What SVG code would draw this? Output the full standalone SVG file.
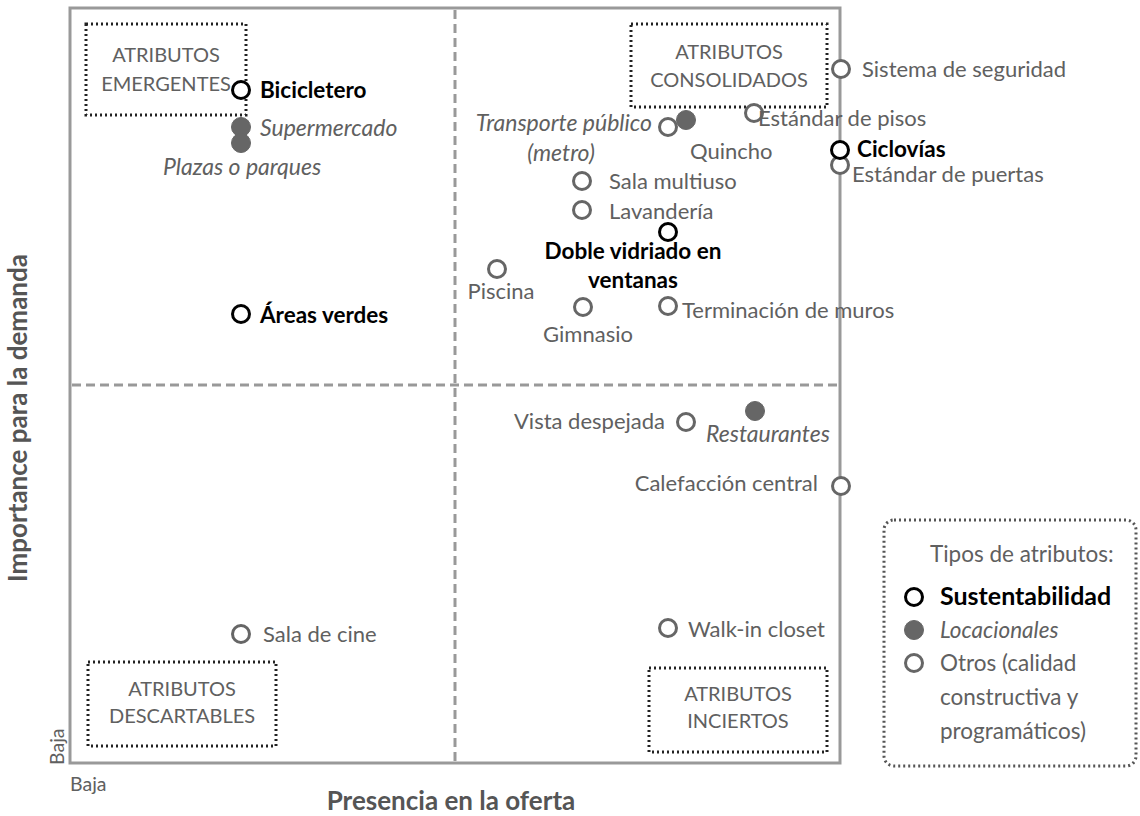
<svg xmlns="http://www.w3.org/2000/svg" width="1140" height="816" viewBox="0 0 1140 816">
<style>
text{font-family:Lato,"Liberation Sans",sans-serif;font-size:22px;fill:#606060}
.b{font-weight:bold;fill:#000;font-size:22.5px}
.i{font-style:italic;font-size:23px}
.q{font-size:20px}
.lg{font-size:22.5px}
.ax{font-weight:bold;fill:#555;font-size:26px}
.o{fill:#fff;stroke:#666;stroke-width:3}
.s{fill:#fff;stroke:#000;stroke-width:3}
.l{fill:#666;stroke:#666;stroke-width:1}
.box{fill:none;stroke:#222;stroke-width:3;stroke-dasharray:2 3}
.mid{text-anchor:middle}
.end{text-anchor:end}
</style>
<rect width="1140" height="816" fill="#fff"/>
<g id="frame">
<rect x="70" y="8" width="770" height="755" fill="none" stroke="#999" stroke-width="3"/>
<line x1="455" y1="10" x2="455" y2="762" stroke="#999" stroke-width="3" stroke-dasharray="9 5"/>
<line x1="72" y1="385" x2="838" y2="385" stroke="#999" stroke-width="3" stroke-dasharray="9 5"/>
</g>
<g id="axes">
<text class="ax mid" transform="translate(27 418) rotate(-90)">Importance para la demanda</text>
<text class="ax mid" x="451" y="810">Presencia en la oferta</text>
<text x="70" y="791" style="font-size:19.5px">Baja</text>
<text transform="translate(64 765) rotate(-90)" style="font-size:19.5px">Baja</text>
</g>
<g id="quadrant-labels">
<g id="q-emergentes"><rect class="box" x="86" y="24" width="160" height="91"/><text class="q mid" x="166" y="62">ATRIBUTOS</text><text class="q mid" x="166" y="91">EMERGENTES</text></g>
<g id="q-consolidados"><rect class="box" x="631" y="24" width="196" height="83"/><text class="q mid" x="729" y="59">ATRIBUTOS</text><text class="q mid" x="729" y="87">CONSOLIDADOS</text></g>
<g id="q-descartables"><rect class="box" x="88" y="662" width="188" height="84"/><text class="q mid" x="182" y="696">ATRIBUTOS</text><text class="q mid" x="182" y="723">DESCARTABLES</text></g>
<g id="q-inciertos"><rect class="box" x="649" y="668" width="178" height="84"/><text class="q mid" x="738" y="701">ATRIBUTOS</text><text class="q mid" x="738" y="728">INCIERTOS</text></g>
</g>
<g id="points">
<g id="p-supermercado"><circle class="l" cx="241" cy="127" r="9.5"/><text class="i" x="260" y="136">Supermercado</text></g>
<g id="p-plazas"><circle class="l" cx="241" cy="143" r="9.5"/><text class="i" x="163" y="175">Plazas o parques</text></g>
<g id="p-bicicletero"><circle class="s" cx="241" cy="90" r="8.5"/><text class="b" x="260" y="98">Bicicletero</text></g>
<g id="p-areas"><circle class="s" cx="241" cy="314" r="8.5"/><text class="b" x="260" y="323">Áreas verdes</text></g>
<g id="p-cine"><circle class="o" cx="241" cy="634" r="8.5"/><text x="263" y="642">Sala de cine</text></g>
<g id="p-seguridad"><circle class="o" cx="841" cy="69" r="8.5"/><text x="862" y="77">Sistema de seguridad</text></g>
<g id="p-quincho"><circle class="l" cx="686" cy="120" r="9.5"/><text x="690" y="159">Quincho</text></g>
<g id="p-transporte"><circle class="o" cx="668" cy="127" r="8.5"/><text class="i end" x="652" y="131">Transporte público</text><text class="i mid" x="561" y="161">(metro)</text></g>
<g id="p-pisos"><circle class="o" cx="754" cy="113" r="8.5"/><text x="758" y="126">Estándar de pisos</text></g>
<g id="p-puertas"><circle class="o" cx="840" cy="165" r="8.5"/><text x="852" y="182">Estándar de puertas</text></g>
<g id="p-ciclovias"><circle class="s" cx="840" cy="150" r="8.5"/><text class="b" x="857" y="157">Ciclovías</text></g>
<g id="p-multiuso"><circle class="o" cx="582" cy="181" r="8.5"/><text x="609" y="189">Sala multiuso</text></g>
<g id="p-lavanderia"><circle class="o" cx="582" cy="210" r="8.5"/><text x="609" y="219">Lavandería</text></g>
<g id="p-vidriado"><circle class="s" cx="668" cy="232" r="8.5"/><text class="b mid" x="633" y="259">Doble vidriado en</text><text class="b mid" x="633" y="288">ventanas</text></g>
<g id="p-piscina"><circle class="o" cx="497" cy="269" r="8.5"/><text class="mid" x="501" y="299">Piscina</text></g>
<g id="p-gimnasio"><circle class="o" cx="583" cy="307" r="8.5"/><text class="mid" x="588" y="342">Gimnasio</text></g>
<g id="p-muros"><circle class="o" cx="668" cy="306" r="8.5"/><text x="682" y="318">Terminación de muros</text></g>
<g id="p-vista"><circle class="o" cx="686" cy="422" r="8.5"/><text class="end" x="665" y="429">Vista despejada</text></g>
<g id="p-restaurantes"><circle class="l" cx="755" cy="411" r="9.5"/><text class="i" x="706" y="442">Restaurantes</text></g>
<g id="p-calefaccion"><circle class="o" cx="841" cy="486" r="8.5"/><text class="end" x="818" y="491">Calefacción central</text></g>
<g id="p-walkin"><circle class="o" cx="668" cy="628" r="8.5"/><text x="688" y="637">Walk-in closet</text></g>
</g>
<g id="legend">
<rect x="884" y="520" width="252" height="246" rx="10" fill="none" stroke="#555" stroke-width="3" stroke-dasharray="2 3"/>
<text class="lg" x="930" y="562">Tipos de atributos:</text>
<circle class="s" cx="914" cy="597" r="8.5"/><text class="b" x="940" y="605" style="font-size:25px">Sustentabilidad</text>
<circle class="l" cx="914" cy="630" r="9.5"/><text class="i lg" x="940" y="638">Locacionales</text>
<circle class="o" cx="914" cy="663" r="8.5"/><text class="lg" x="940" y="671">Otros (calidad</text>
<text class="lg" x="940" y="705">constructiva y</text>
<text class="lg" x="940" y="739">programáticos)</text>
</g>
</svg>
